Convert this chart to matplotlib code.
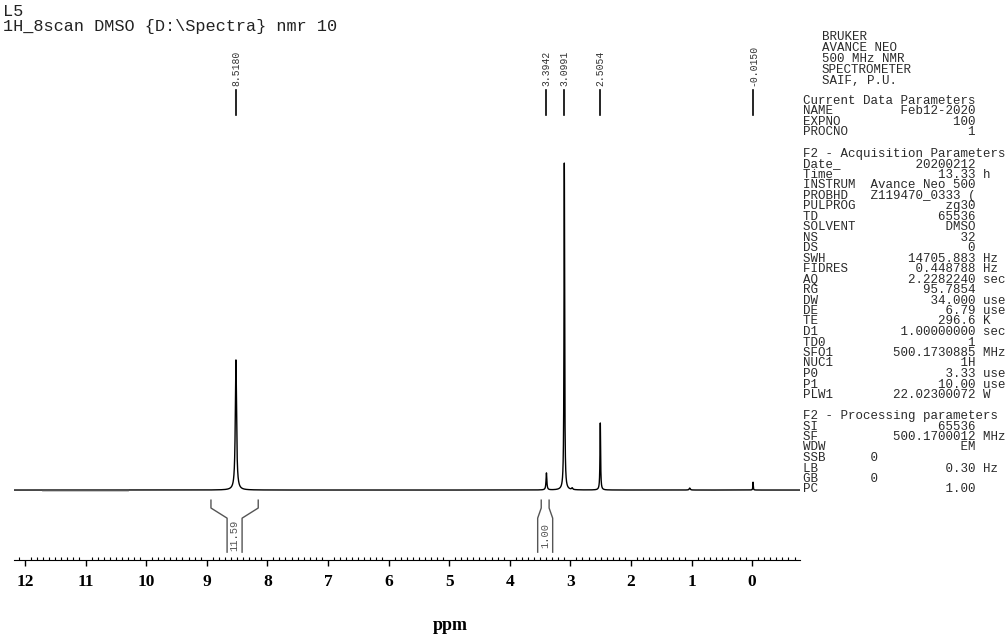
import matplotlib.pyplot as plt
import numpy as np
from matplotlib.ticker import MultipleLocator

# peaks: position (ppm), height (tallest = 100), half width (ppm)
peak_ppm = [8.518, 3.3942, 3.0991, 2.97, 2.5054, 1.03, -0.015]
peak_height = [39.8, 5.2, 100.0, 0.5, 20.5, 0.6, 2.4]
peak_width = [0.012, 0.008, 0.006, 0.01, 0.006, 0.01, 0.004]

# noisy stretch of baseline at the low-field end (ppm)
noise_region = [11.7, 10.3]

# picked peak labels shown on top
label_ppm = [8.5180, 3.3942, 3.0991, 2.5054, -0.0150]

# integrals: region start / end (ppm) and value
integral_left = [8.93, 3.48]
integral_right = [8.15, 3.35]
integral_value = ["11.59", "1.00"]

xtick_values = list(range(12, -1, -1))

title_lines = ["L5", "1H_8scan DMSO {D:\\Spectra} nmr 10"]
bruker_lines = ["BRUKER", "AVANCE NEO", "500 MHz NMR", "SPECTROMETER", "SAIF, P.U."]

current_params = [("NAME", "Feb12-2020", ""), ("EXPNO", "100", ""), ("PROCNO", "1", "")]
acq_params = [
    ("Date_", "20200212", ""), ("Time", "13.33", "h"), ("INSTRUM", "Avance Neo 500", ""),
    ("PROBHD", "Z119470_0333 (", ""), ("PULPROG", "zg30", ""), ("TD", "65536", ""),
    ("SOLVENT", "DMSO", ""), ("NS", "32", ""), ("DS", "0", ""),
    ("SWH", "14705.883", "Hz"), ("FIDRES", "0.448788", "Hz"), ("AQ", "2.2282240", "sec"),
    ("RG", "95.7854", ""), ("DW", "34.000", "use"), ("DE", "6.79", "use"),
    ("TE", "296.6", "K"), ("D1", "1.00000000", "sec"), ("TD0", "1", ""),
    ("SFO1", "500.1730885", "MHz"), ("NUC1", "1H", ""), ("P0", "3.33", "use"),
    ("P1", "10.00", "use"), ("PLW1", "22.02300072", "W"),
]
proc_params = [
    ("SI", "65536", ""), ("SF", "500.1700012", "MHz"), ("WDW", "EM", ""),
    ("SSB", "0", "left"), ("LB", "0.30", "Hz"), ("GB", "0", "left"), ("PC", "1.00", ""),
]

W, H = 1005, 638
MONO = "Liberation Mono"


def fx(px):
    return px / W


def fy(py):
    return 1 - py / H


def param_line(name, value, unit):
    if unit == "left":
        return name.ljust(9) + value
    s = name + value.rjust(23 - len(name))
    if unit:
        s += " " + unit
    return s


fig = plt.figure(figsize=(W / 100, H / 100), dpi=100)
ax = fig.add_axes([fx(14), fy(560), fx(800) - fx(14), fy(30) - fy(560)])

# spectrum from the peak table (Lorentzian lines)
x = np.linspace(12.18, -0.79, 40000)
y = np.zeros_like(x)
for p, h, g in zip(peak_ppm, peak_height, peak_width):
    y += h * g**2 / ((x - p) ** 2 + g**2)
ax.plot(x, y, color="black", lw=1.0)
m = (x <= noise_region[0]) & (x >= noise_region[1])
ax.plot(x[m], y[m] - 0.1, color="#555555", lw=1.4)

# peak labels
for p in label_ppm:
    ax.plot([p, p], [114.7, 122.3], color="black", lw=1.2, clip_on=False)
    ax.text(p, 123.6, f"{p:.4f}", rotation=90, ha="center", va="bottom",
            family=MONO, fontsize=7, color="#333333", clip_on=False)

# integral brackets
half = 7.5 / 60.6
for l, r, v in zip(integral_left, integral_right, integral_value):
    c = (l + r) / 2
    ax.plot([l, l, c + half, c + half], [-3.1, -5.5, -8.6, -19.0], color="#555555", lw=1)
    ax.plot([r, r, c - half, c - half], [-3.1, -5.5, -8.6, -19.0], color="#555555", lw=1)
    ax.text(c, -13.8, v, rotation=90, ha="center", va="center",
            family=MONO, fontsize=7.5, color="#555555")

ax.set_xlim(12.18, -0.79)
ax.set_ylim(-21.4, 140.7)
for s in ["left", "top", "right"]:
    ax.spines[s].set_visible(False)
ax.set_yticks([])
ax.set_xticks(xtick_values)
ax.set_xticklabels([str(t) for t in xtick_values], family="Liberation Serif",
                   fontweight="bold", fontsize=12.5)
ax.xaxis.set_minor_locator(MultipleLocator(0.1))
ax.tick_params(axis="x", which="major", direction="out", length=4, width=1, pad=6)
ax.tick_params(axis="x", which="minor", direction="in", length=2.5, width=0.8)
ax.patch.set_alpha(0)

fig.text(fx(450), fy(625), "ppm", ha="center", va="center",
         family="Liberation Serif", fontweight="bold", fontsize=13)

# header
for i, t in enumerate(title_lines):
    fig.text(fx(3), fy(12 + 15 * i), t, ha="left", va="center",
             family=MONO, fontsize=12.2, color="#222222")

# parameter block
for i, t in enumerate(bruker_lines):
    fig.text(fx(822), fy(37 + 11 * i), t, ha="left", va="center",
             family=MONO, fontsize=9, color="#2a2a2a")

lines = ["Current Data Parameters"]
lines += [param_line(*p) for p in current_params]
lines += ["", "F2 - Acquisition Parameters"]
lines += [param_line(*p) for p in acq_params]
lines += ["", "F2 - Processing parameters"]
lines += [param_line(*p) for p in proc_params]
for i, t in enumerate(lines):
    if t:
        fig.text(fx(803), fy(101 + 10.5 * i), t, ha="left", va="center",
                 family=MONO, fontsize=9, color="#2a2a2a")

fig.savefig("out.png", dpi=100)
